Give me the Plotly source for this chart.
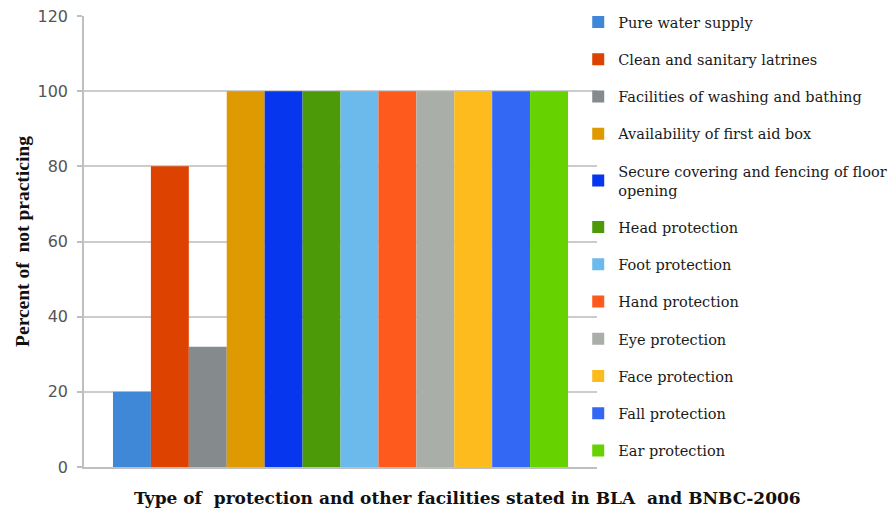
import plotly.graph_objects as go

# Share of sites not practising each stated protection / facility (%)
categories = [
    "Pure water supply",
    "Clean and sanitary latrines",
    "Facilities of washing and bathing",
    "Availability of first aid box",
    "Secure covering and fencing of floor<br>opening",
    "Head protection",
    "Foot protection",
    "Hand protection",
    "Eye protection",
    "Face protection",
    "Fall protection",
    "Ear protection",
]
percent_not_practicing = [20, 80, 32, 100, 100, 100, 100, 100, 100, 100, 100, 100]
colors = [
    "#3F88D8", "#DD4200", "#858A8C", "#DE9A00", "#0636EE", "#4C9A07",
    "#6CBAEC", "#FF5A1E", "#A9AEA9", "#FDBB1E", "#3368F5", "#66D200",
]
y_ticks = [0, 20, 40, 60, 80, 100, 120]

serif_wide = "DejaVu Serif, serif"
serif = "Liberation Serif, Times New Roman, serif"
sans = "DejaVu Sans, Arial, sans-serif"

fig = go.Figure()
for i, (name, val, col) in enumerate(zip(categories, percent_not_practicing, colors)):
    fig.add_trace(go.Bar(
        x=[""], y=[val], name=name, marker=dict(color=col, line=dict(width=0)),
        legendgroup=f"g{i}", showlegend=True,
    ))

fig.update_layout(
    width=896, height=516,
    margin=dict(l=84, r=299, t=16, b=49, autoexpand=False),
    paper_bgcolor="white", plot_bgcolor="white",
    barmode="group", bargap=0.113, bargroupgap=0,
    showlegend=True,
    legend=dict(
        x=0.9634, xanchor="left", y=1.022, yanchor="top",
        bgcolor="rgba(0,0,0,0)", borderwidth=0,
        font=dict(family=serif_wide, size=14.5, color="#1a1a1a"),
        tracegroupgap=15.4, itemwidth=30, maxheight=700,
    ),
    xaxis=dict(
        showticklabels=False, showgrid=False, ticks="",
        showline=True, linecolor="#BFBFBF", linewidth=1.5,
    ),
    yaxis=dict(
        range=[0, 120], tickvals=y_ticks, showgrid=True,
        gridcolor="#CCCCCC", gridwidth=1.5,
        showline=True, linecolor="#BFBFBF", linewidth=1.5,
        ticks="outside", ticklen=5, tickcolor="#BFBFBF", tickwidth=1.5,
        tickfont=dict(family=sans, size=16, color="#555555"),
        ticklabelstandoff=6,
        zeroline=False,
        title=dict(text="<b>Percent of\u00a0\u00a0not practicing</b>",
                   font=dict(family=serif, size=19.5, color="#111111"), standoff=3),
    ),
    annotations=[dict(
        text="<b>Type of\u00a0\u00a0protection and other facilities stated in BLA\u00a0\u00a0and BNBC-2006</b>",
        xref="paper", yref="paper", x=(467 - 84) / 513, y=-0.042,
        xanchor="center", yanchor="top", showarrow=False,
        font=dict(family=serif_wide, size=17, color="#111111"),
    )],
)

fig.write_html("out.html")
